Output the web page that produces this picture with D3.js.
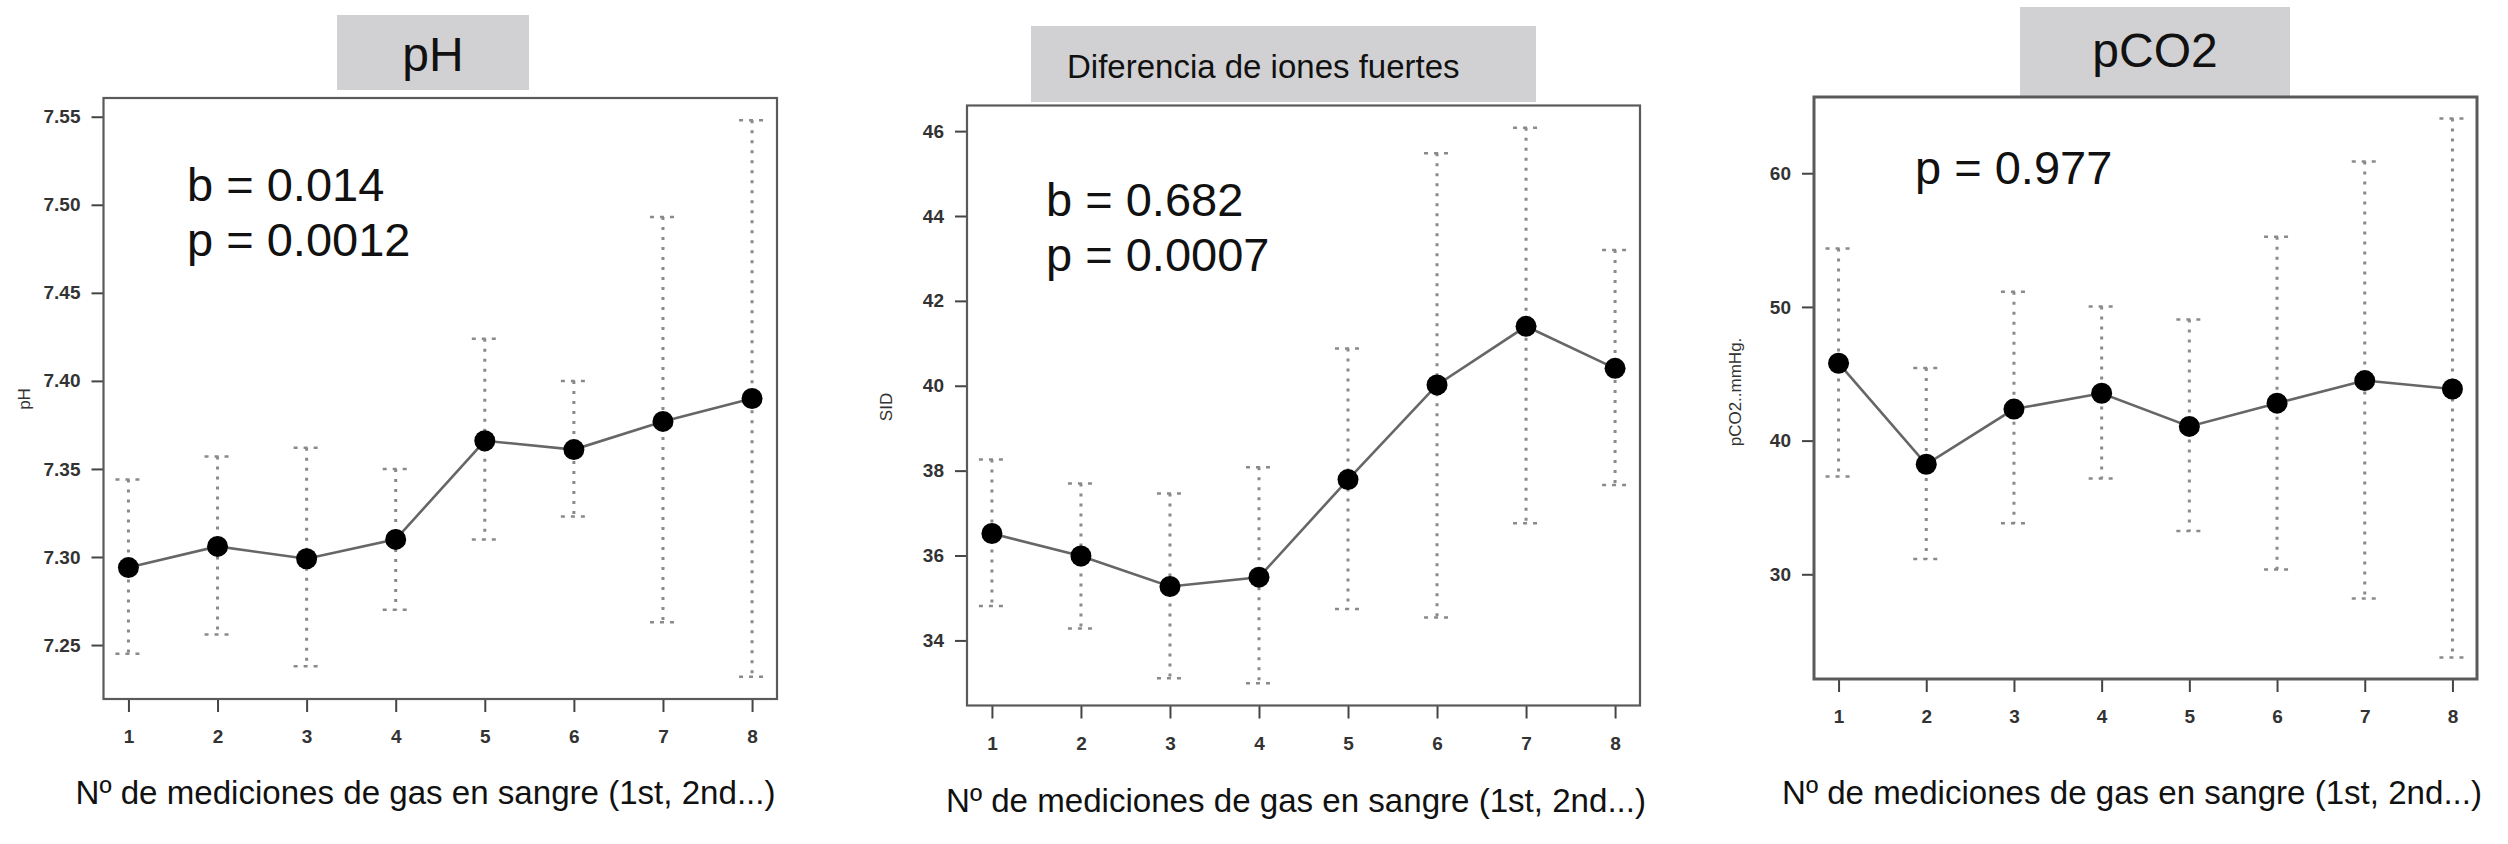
<!DOCTYPE html>
<html lang="es">
<head>
  <meta charset="UTF-8">
  <title>Gases en sangre</title>
  <script src="https://d3js.org/d3.v7.min.js"></script>
  <style>
    body { margin: 0; background: #fff; }
    svg { display: block; font-family: "Liberation Sans", Arial, sans-serif; }
    .tick text { fill: #333; font-weight: bold; }
  </style>
</head>
<body>
  <div id="canvas"></div>
  <script>
    // mediciones 1..8
    const medicion = [1, 2, 3, 4, 5, 6, 7, 8];

    const phMedia = [7.294, 7.306, 7.299, 7.310, 7.366, 7.361, 7.377, 7.390];
    const phSup   = [7.344, 7.357, 7.362, 7.350, 7.424, 7.400, 7.493, 7.548];
    const phInf   = [7.245, 7.256, 7.238, 7.270, 7.310, 7.323, 7.263, 7.232];
    const phTicks = [7.25, 7.30, 7.35, 7.40, 7.45, 7.50, 7.55];

    const sidMedia = [36.52, 35.99, 35.27, 35.49, 37.79, 40.02, 41.40, 40.41];
    const sidSup   = [38.26, 37.70, 37.46, 38.08, 40.88, 45.48, 46.08, 43.20];
    const sidInf   = [34.81, 34.28, 33.11, 32.99, 34.74, 34.54, 36.76, 37.66];
    const sidTicks = [34, 36, 38, 40, 42, 44, 46];

    const pco2Media = [45.79, 38.23, 42.36, 43.54, 41.06, 42.80, 44.49, 43.86];
    const pco2Sup   = [54.37, 45.43, 51.14, 50.04, 49.06, 55.24, 60.87, 64.09];
    const pco2Inf   = [37.32, 31.14, 33.82, 37.17, 33.23, 30.35, 28.19, 23.78];
    const pco2Ticks = [30, 40, 50, 60];

    const xTitle = 'Nº de mediciones de gas en sangre (1st, 2nd...)';

    const width = 2508;
    const height = 844;

    const svg = d3.select('#canvas')
      .append('svg')
      .attr('width', width)
      .attr('height', height);

    const panels = [
      {
        media: phMedia, sup: phSup, inf: phInf, ticks: phTicks, fmt: d3.format('.2f'),
        ylab: 'pH', stats: ['b = 0.014', 'p = 0.0012'],
        box: { l: 103.5, r: 777, t: 98, b: 699 }, boxStroke: 2.2,
        title: { text: 'pH', x0: 337, x1: 529, y0: 15, y1: 90, size: 48, tx: 433, ty: 71, anchor: 'middle' },
        statX: 187, statY: 201, ylabX: 24, ylabY: 399, xtY: 792, xtX: 425.5
      },
      {
        media: sidMedia, sup: sidSup, inf: sidInf, ticks: sidTicks, fmt: d3.format('d'),
        ylab: 'SID', stats: ['b = 0.682', 'p = 0.0007'],
        box: { l: 967, r: 1640, t: 105.5, b: 705.5 }, boxStroke: 2.2,
        title: { text: 'Diferencia de iones fuertes', x0: 1031, x1: 1536, y0: 26, y1: 102, size: 33, tx: 1067, ty: 78, anchor: 'start' },
        statX: 1046, statY: 216, ylabX: 886, ylabY: 407, xtY: 800, xtX: 1296
      },
      {
        media: pco2Media, sup: pco2Sup, inf: pco2Inf, ticks: pco2Ticks, fmt: d3.format('d'),
        ylab: 'pCO2..mmHg.', stats: ['p = 0.977'],
        box: { l: 1814, r: 2477, t: 97, b: 679 }, boxStroke: 3,
        title: { text: 'pCO2', x0: 2020, x1: 2290, y0: 7, y1: 96, size: 48, tx: 2155, ty: 67, anchor: 'middle' },
        statX: 1915, statY: 184, ylabX: 1735, ylabY: 392, xtY: 792, xtX: 2132
      }
    ];

    panels.forEach(p => {
      const g = svg.append('g');

      // R style: 4% padding on both axes
      const lo = d3.min(p.inf), hi = d3.max(p.sup);
      const padY = (hi - lo) * 0.04;
      const scaleY = d3.scaleLinear()
        .domain([lo - padY, hi + padY])
        .range([p.box.b, p.box.t]);
      const padX = (d3.max(medicion) - d3.min(medicion)) * 0.04;
      const scaleX = d3.scaleLinear()
        .domain([d3.min(medicion) - padX, d3.max(medicion) + padX])
        .range([p.box.l, p.box.r]);

      // title box
      g.append('rect')
        .attr('x', p.title.x0).attr('y', p.title.y0)
        .attr('width', p.title.x1 - p.title.x0)
        .attr('height', p.title.y1 - p.title.y0)
        .attr('fill', '#d1d1d3');
      g.append('text')
        .attr('x', p.title.tx).attr('y', p.title.ty)
        .attr('text-anchor', p.title.anchor)
        .style('font-size', p.title.size + 'px')
        .attr('fill', '#111')
        .text(p.title.text);

      // axes
      const xAxis = d3.axisBottom(scaleX).tickValues(medicion).tickSize(13).tickPadding(18);
      g.append('g')
        .attr('transform', 'translate(0,' + p.box.b + ')')
        .call(xAxis)
        .call(a => a.select('.domain').remove())
        .call(a => a.selectAll('line').attr('stroke', '#444').attr('stroke-width', 2))
        .call(a => a.selectAll('text').style('font-size', '19px').style('font-family', 'Liberation Sans'));

      const yAxis = d3.axisLeft(scaleY).tickValues(p.ticks).tickFormat(p.fmt).tickSize(12).tickPadding(11);
      g.append('g')
        .attr('transform', 'translate(' + p.box.l + ',0)')
        .call(yAxis)
        .call(a => a.select('.domain').remove())
        .call(a => a.selectAll('line').attr('stroke', '#444').attr('stroke-width', 2))
        .call(a => a.selectAll('text').style('font-size', '19px').style('font-family', 'Liberation Sans'));

      // plot box
      g.append('rect')
        .attr('x', p.box.l).attr('y', p.box.t)
        .attr('width', p.box.r - p.box.l)
        .attr('height', p.box.b - p.box.t)
        .attr('fill', 'none')
        .attr('stroke', '#5a5a5a')
        .attr('stroke-width', p.boxStroke);

      // error bars
      const bars = g.append('g').selectAll('g')
        .data(medicion)
        .enter()
        .append('g');
      bars.append('line')
        .attr('x1', d => scaleX(d)).attr('x2', d => scaleX(d))
        .attr('y1', (d, i) => scaleY(p.sup[i]))
        .attr('y2', (d, i) => scaleY(p.inf[i]))
        .attr('stroke', '#8a8a8a')
        .attr('stroke-width', 3)
        .attr('stroke-dasharray', '3,7');
      ['sup', 'inf'].forEach(k => {
        bars.append('line')
          .attr('x1', d => scaleX(d) - 13).attr('x2', d => scaleX(d) + 13)
          .attr('y1', (d, i) => scaleY(p[k][i]))
          .attr('y2', (d, i) => scaleY(p[k][i]))
          .attr('stroke', '#8a8a8a')
          .attr('stroke-width', 2.5)
          .attr('stroke-dasharray', '4,6');
      });

      // mean line and points
      const line = d3.line()
        .x(d => scaleX(d))
        .y((d, i) => scaleY(p.media[i]));
      g.append('path')
        .datum(medicion)
        .attr('d', line)
        .attr('fill', 'none')
        .attr('stroke', '#666')
        .attr('stroke-width', 2.6);
      g.append('g').selectAll('circle')
        .data(medicion)
        .enter()
        .append('circle')
        .attr('cx', d => scaleX(d))
        .attr('cy', (d, i) => scaleY(p.media[i]))
        .attr('r', 10.5)
        .attr('fill', '#000');

      // stats text
      p.stats.forEach((s, i) => {
        g.append('text')
          .attr('x', p.statX)
          .attr('y', p.statY + i * 55)
          .style('font-size', '47px')
          .attr('fill', '#111')
          .text(s);
      });

      // y label
      g.append('text')
        .attr('transform', 'translate(' + p.ylabX + ',' + p.ylabY + ') rotate(-90)')
        .attr('text-anchor', 'middle')
        .attr('dominant-baseline', 'central')
        .style('font-size', '17px')
        .attr('fill', '#333')
        .text(p.ylab);

      // x title
      g.append('text')
        .attr('x', p.xtX)
        .attr('y', p.xtY)
        .attr('text-anchor', 'middle')
        .attr('dominant-baseline', 'central')
        .attr('textLength', 700)
        .attr('lengthAdjust', 'spacingAndGlyphs')
        .style('font-size', '34px')
        .attr('fill', '#111')
        .text(xTitle);
    });
  </script>
</body>
</html>
